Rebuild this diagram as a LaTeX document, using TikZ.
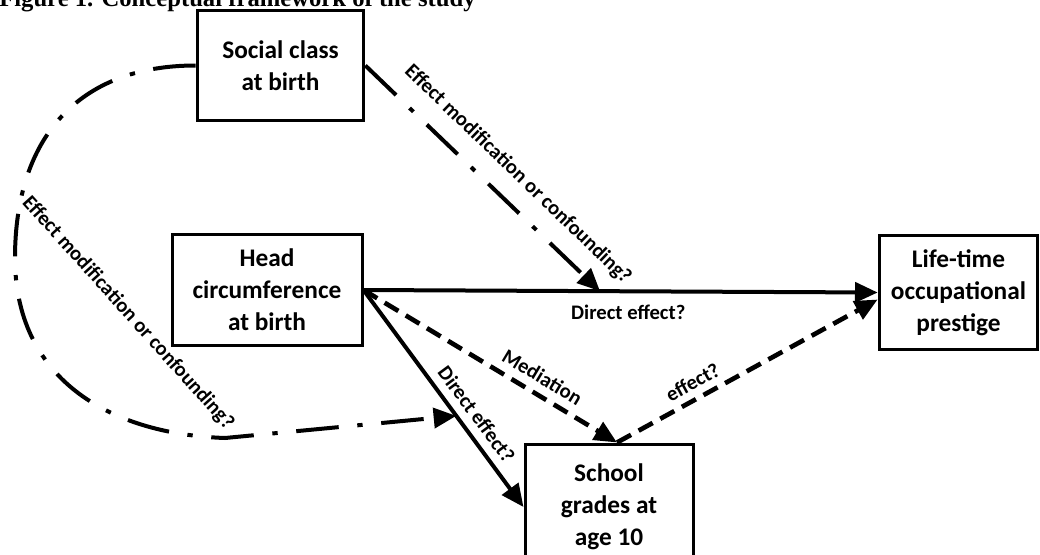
\documentclass[tikz,border=0pt]{standalone}
\usepackage{fontspec}
\setmainfont{Carlito}
\newfontfamily\titlefont{Liberation Serif}
\usetikzlibrary{arrows.meta,calc}
\tikzset{
 box/.style={draw, line width=2.25pt, align=center, inner sep=0pt, font=\bfseries\fontsize{19}{24}\selectfont},
 lbl/.style={inner sep=1pt, font=\bfseries\fontsize{15.5}{18}\selectfont},
 link/.style={line width=3pt, -{Triangle[length=17pt,width=15pt]}},
 dashlink/.style={link, line width=3.5pt, dash pattern=on 12pt off 6.5pt},
 dotlink/.style={link, dash pattern=on 32pt off 14pt on 4pt off 14pt},
}
\begin{document}
\begin{tikzpicture}[x=0.75pt,y=-0.75pt]
\useasboundingbox (0,0) rectangle (1040,554);
% title
\node[anchor=base west, inner sep=0pt, font=\titlefont\bfseries\fontsize{18.5}{22}\selectfont] (title) at (-1,6) {Figure 1. Conceptual framework of the study};
% nodes
\node[box, minimum width=125pt, minimum height=83pt] (social) at (280.5,65.5) {Social class\\at birth};
\node[box, minimum width=142.5pt, minimum height=83pt] (head) at (267,290) {Head\\circumference\\at birth};
\node[box, minimum width=119pt, minimum height=85pt] (life) at (958.5,292.5) {Life-time\\occupational\\prestige};
\node[box, minimum width=126pt, minimum height=94.5pt] (school) at (609,507) {School\\grades at\\age 10};
% points where arrows meet
\coordinate (hit1) at ($(head.east)!0.46!(life.west)$);
\coordinate (hit2) at ($(head.east)!0.58!(school.west)$);
\coordinate (sgtop) at ($(school.north)+(8,0)$);
\coordinate (lifein) at ($(life.west)+(0,7)$);
\coordinate (bendL) at (15,258);
\coordinate (bendB) at (225,438);
% edges
\draw[link] (head.east) -- node[lbl, below=8pt, pos=0.515] (lblA) {Direct effect?} (life.west);
\draw[link] (head.east) -- node[lbl, sloped, above=5pt, pos=0.62] (lblC) {Direct effect?} (school.west);
\draw[dashlink] (head.east) -- node[lbl, sloped, above=5pt, pos=0.67] (lblD) {Mediation} (sgtop);
\draw[dashlink] (sgtop) -- node[lbl, sloped, above=4pt, pos=0.32] (lblE) {effect?} (lifein);
\draw[dotlink] (social.east) -- node[lbl, sloped, above=11pt, pos=0.57] (lblB) {Effect modification or confounding?} (hit1);
\draw[dotlink] (social.west) to[out=180, in=90, looseness=1.15] (bendL)
  to[out=-90, in=178, looseness=1.1] (bendB) -- (hit2);
\node[lbl, rotate=-48] (lblF) at (128,313) {Effect modification or confounding?};
\end{tikzpicture}
\end{document}
